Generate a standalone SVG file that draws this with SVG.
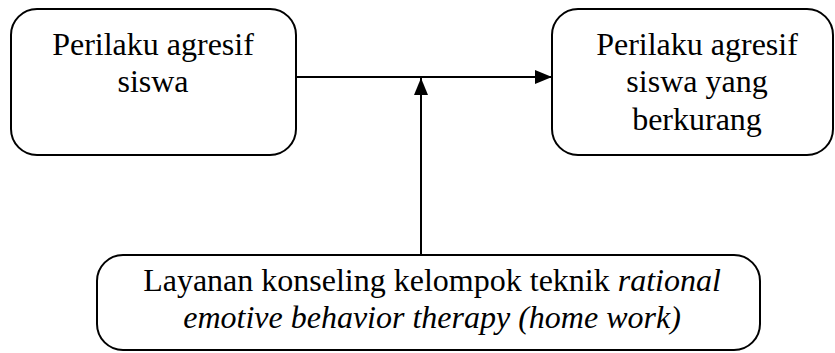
<svg xmlns="http://www.w3.org/2000/svg" width="835" height="353" viewBox="0 0 835 353">
<style>
.box{fill:#fff;stroke:#000;stroke-width:2}
.t{font-family:'Liberation Serif','Times New Roman',Times,'DejaVu Serif',serif;font-size:32px;fill:#000;text-anchor:middle}
.i{font-style:italic}
.c{stroke:#000;stroke-width:2;fill:none}
</style>
<defs>
<marker id="ah" markerWidth="17" markerHeight="14" refX="17" refY="7" orient="auto" markerUnits="userSpaceOnUse">
<path d="M0,0 L17,7 L0,14 Z" fill="#000"/>
</marker>
</defs>
<rect width="835" height="353" fill="#fff"/>
<g id="connectors">
<line class="c" x1="296" y1="77" x2="552" y2="77" marker-end="url(#ah)"/>
<line class="c" x1="421" y1="255" x2="421" y2="78" marker-end="url(#ah)"/>
</g>
<g id="node1">
<rect class="box" x="11" y="9" width="285" height="146" rx="26"/>
<text class="t" x="153" y="55" font-family="Liberation Serif, serif">Perilaku agresif</text>
<text class="t" x="153" y="92" font-family="Liberation Serif, serif">siswa</text>
</g>
<g id="node2">
<rect class="box" x="552" y="9" width="281" height="146" rx="26"/>
<text class="t" x="697" y="55">Perilaku agresif</text>
<text class="t" x="697" y="92">siswa yang</text>
<text class="t" x="697" y="130">berkurang</text>
</g>
<g id="node3">
<rect class="box" x="97" y="255" width="663" height="95" rx="26"/>
<text class="t" x="432" y="291">Layanan konseling kelompok teknik <tspan class="i">rational</tspan></text>
<text class="t i" x="432" y="328">emotive behavior therapy (home work)</text>
</g>
</svg>
